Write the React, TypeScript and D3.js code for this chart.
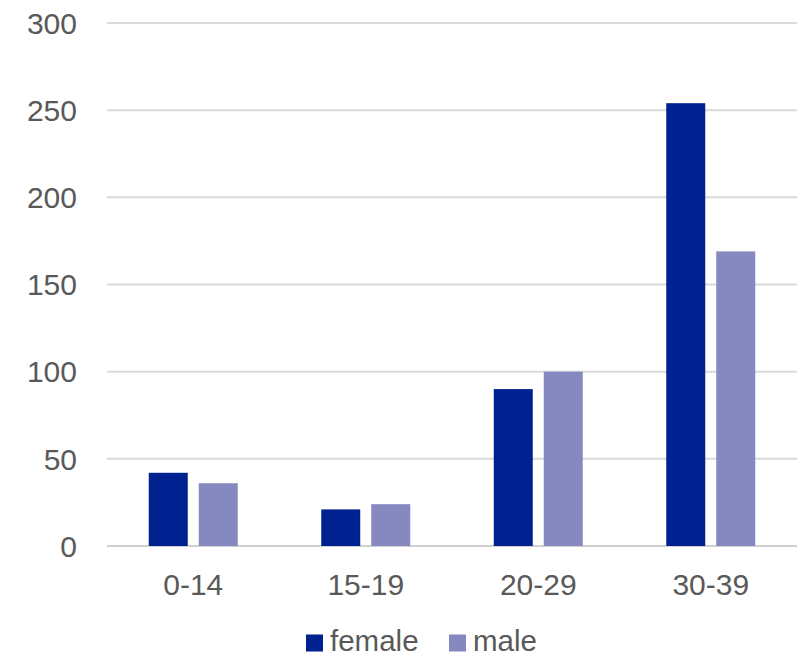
import React from "react";
import * as d3 from "d3";

const categories = ["0-14", "15-19", "20-29", "30-39"];
const seriesNames = ["female", "male"];
const femaleValues = [42, 21, 90, 254];
const maleValues = [36, 24, 100, 169];
const yTicks = [0, 50, 100, 150, 200, 250, 300];
const colors = ["#002190", "#8689BF"];

const W = 797;
const H = 657;
const M = { left: 107, right: 797, top: 23, bottom: 546 };
const FONT = "'Liberation Sans', Arial, sans-serif";
const TEXT = "#595959";

export default function App() {
  const x = d3.scaleBand<string>().domain(categories).range([M.left, M.right]).paddingInner(0).paddingOuter(0);
  const y = d3.scaleLinear().domain([0, 300]).range([M.bottom, M.top]);
  const barW = 39;
  const gap = 11;
  const series = [femaleValues, maleValues];

  return (
    <svg width={W} height={H} style={{ position: "absolute", left: 0, top: 0, background: "#fff" }}>
      <rect x={0} y={0} width={W} height={H} fill="#fff" />
      {yTicks.map((t) => (
        <g key={t}>
          <line x1={M.left} x2={M.right} y1={y(t)} y2={y(t)} stroke={t === 0 ? "#d0d0d0" : "#d9d9d9"} strokeWidth={2} />
          <text x={77} y={y(t)} dy="0.36em" textAnchor="end" fontFamily={FONT} fontSize={30} fill={TEXT}>
            {t}
          </text>
        </g>
      ))}
      {categories.map((c, i) => {
        const cx = (x(c) as number) + x.bandwidth() / 2;
        const start = cx - (2 * barW + gap) / 2;
        return (
          <g key={c}>
            {series.map((vals, s) => (
              <rect
                key={s}
                x={start + s * (barW + gap)}
                y={y(vals[i])}
                width={barW}
                height={y(0) - y(vals[i])}
                fill={colors[s]}
              />
            ))}
            <text x={cx} y={595} textAnchor="middle" fontFamily={FONT} fontSize={30} fill={TEXT}>
              {c}
            </text>
          </g>
        );
      })}
      {seriesNames.map((n, s) => {
        const lx = s === 0 ? 306 : 449;
        return (
          <g key={n}>
            <rect x={lx} y={634.5} width={17} height={17} fill={colors[s]} />
            <text x={lx + 24} y={651} fontFamily={FONT} fontSize={29.5} fill={TEXT}>
              {n}
            </text>
          </g>
        );
      })}
    </svg>
  );
}
